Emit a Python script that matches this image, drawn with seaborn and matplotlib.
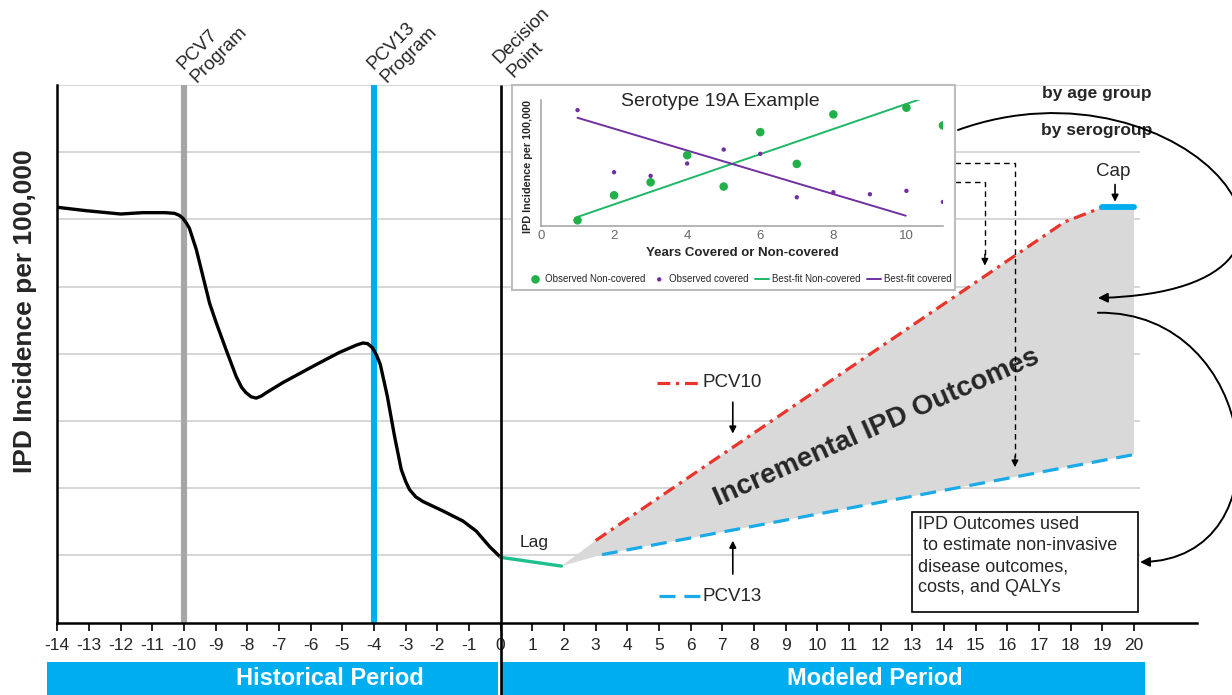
import pandas as pd
import seaborn as sns
import matplotlib.pyplot as plt
from matplotlib import font_manager
from matplotlib.patches import Rectangle, FancyArrowPatch
from matplotlib.path import Path

# historical IPD incidence, years relative to the decision point
hist_years = [-14.0, -13.1, -12.0, -11.3, -10.6, -10.3, -10.15, -10.04, -9.93, -9.83, -9.61,
              -9.41, -9.19, -8.98, -8.67, -8.35, -8.18, -8.04, -7.88, -7.72, -7.56, -7.40,
              -6.88, -5.82, -5.09, -4.55, -4.35, -4.20, -4.05, -3.92, -3.80, -3.58, -3.35,
              -3.14, -3.00, -2.88, -2.68, -2.45, -1.82, -1.19, -0.77, -0.35, 0.0]
hist_incidence = [6.18, 6.13, 6.08, 6.10, 6.10, 6.09, 6.06, 6.02, 5.95, 5.87, 5.55,
                  5.17, 4.75, 4.46, 4.06, 3.66, 3.50, 3.42, 3.36, 3.34, 3.37, 3.42,
                  3.57, 3.84, 4.02, 4.13, 4.16, 4.15, 4.09, 3.98, 3.84, 3.37, 2.77,
                  2.28, 2.10, 1.98, 1.87, 1.80, 1.66, 1.51, 1.36, 1.13, 0.97]

lag_years = [0.0, 1.92]
lag_incidence = [0.97, 0.84]

pcv10_years = [3.0, 17.8, 19.0]
pcv10_incidence = [1.22, 5.96, 6.18]
pcv13_years = [3.2, 20.0]
pcv13_incidence = [1.01, 2.50]
cap_years = [19.0, 20.0]
cap_incidence = [6.18, 6.18]

program_years = [-10, -4]
program_colors = ['#A6A6A6', '#00AEEF']
event_labels = ['PCV7\nProgram', 'PCV13\nProgram', 'Decision\nPoint']
event_years = [-10, -4, 0]
year_ticks = list(range(-14, 21))
grid_levels = [1, 2, 3, 4, 5, 6, 7, 8]
period_names = ['Historical Period', 'Modeled Period']
period_starts = [-14.32, 0.04]
period_ends = [-0.08, 20.34]
period_label_x = [-5.4, 11.82]

# inset: serotype 19A example
nc_years = [1, 2, 3, 4, 5, 6, 7, 8, 10, 11]
nc_incidence = [0.45, 2.44, 3.47, 5.62, 3.13, 7.45, 4.93, 8.86, 9.39, 7.98]
cov_years = [1, 2, 3, 4, 5, 6, 7, 8, 9, 10, 11]
cov_incidence = [9.20, 4.27, 3.98, 4.96, 6.07, 5.73, 2.28, 2.68, 2.52, 2.79, 1.91]
fit_nc_years = [1, 10.36]
fit_nc = [0.72, 10.05]
fit_cov_years = [1, 9.98]
fit_cov = [8.59, 0.82]

GREEN = '#22B04B'
PURPLE = '#7030A0'
RED = '#E8342A'
BLUE = '#1AAAE8'
CYAN = '#00AEEF'

sns.set_theme(style='white')
plt.rcParams['font.family'] = ['Liberation Sans', 'DejaVu Sans']

fig = plt.figure(figsize=(12.32, 6.95), dpi=100)
ax = fig.add_axes([0.0465, 0.1043, 0.9254, 0.7734])
ax.set_xlim(-14, 22)
ax.set_ylim(0, 8)

# gridlines
ax.hlines(grid_levels, -14, 20.19, color='#D6D6D6', lw=1.4, zorder=0)

# program lines
ax.vlines(program_years, 0, 8.03, colors=program_colors, lw=4.4, zorder=1)
ax.vlines([0], -1.08, 8.0, colors='black', lw=1.9, zorder=6, clip_on=False)

# incremental area
fill_x = [lag_years[-1]] + pcv10_years + [cap_years[-1]] + pcv13_years[::-1]
fill_y = [lag_incidence[-1]] + pcv10_incidence + [cap_incidence[-1]] + pcv13_incidence[::-1]
ax.fill(fill_x, fill_y, color='#D9D9D9', lw=0, zorder=1)

hist = pd.DataFrame({'year': hist_years, 'incidence': hist_incidence})
sns.lineplot(data=hist, x='year', y='incidence', sort=False, estimator=None,
             color='black', lw=2.4, ax=ax, zorder=3)
sns.lineplot(x=lag_years, y=lag_incidence, color='#1DBF8E', lw=2.4, ax=ax, zorder=3)
sns.lineplot(x=pcv10_years, y=pcv10_incidence, color=RED, lw=2.3, ax=ax, zorder=3,
             linestyle=(0, (4, 1.8, 1, 1.8)))
sns.lineplot(x=pcv13_years, y=pcv13_incidence, color=BLUE, lw=2.3, ax=ax, zorder=3,
             linestyle=(0, (5, 2.8)))
sns.lineplot(x=cap_years, y=cap_incidence, color=CYAN, lw=4.2, ax=ax, zorder=3)

# axes styling
for side in ['top', 'right']:
    ax.spines[side].set_visible(False)
for side in ['left', 'bottom']:
    ax.spines[side].set_color('black')
    ax.spines[side].set_linewidth(1.8)
ax.set_xticks(year_ticks)
ax.set_xticklabels([str(t) for t in year_ticks])
ax.set_yticks([])
ax.tick_params(axis='x', direction='out', length=6, width=1.2, color='black',
               labelsize=12.5, pad=5, bottom=True)
ax.set_xlabel('')
ax.set_ylabel('')
fig.text(0.02, 0.552, 'IPD Incidence per 100,000', rotation=90, ha='center', va='center',
         fontsize=19, fontweight='bold')

# period bands
for name, x0, x1, lx in zip(period_names, period_starts, period_ends, period_label_x):
    ax.add_patch(Rectangle((x0, -1.08), x1 - x0, 0.49, facecolor=CYAN, edgecolor='none',
                           clip_on=False, zorder=4))
    ax.text(lx, -0.835, name, ha='center', va='center', color='white', fontsize=17,
            fontweight='bold', zorder=5)

# event labels
for lab, yr in zip(event_labels, event_years):
    ax.text(yr + 0.5, 7.98 if yr else 8.06, lab, rotation=45, rotation_mode='anchor',
            ha='left', va='bottom', fontsize=13.5)

ax.text(11.88, 2.90, 'Incremental IPD Outcomes', rotation=24, ha='center', va='center',
        fontsize=20, fontweight='bold', zorder=5)
ax.text(1.07, 1.19, 'Lag', ha='center', va='center', fontsize=12.5)
ax.text(19.34, 6.71, 'Cap', ha='center', va='center', fontsize=13.5)
ax.annotate('', xy=(19.4, 6.22), xytext=(19.4, 6.56),
            arrowprops=dict(arrowstyle='-|>', color='black', lw=1.2, mutation_scale=10))

# vaccine labels
ax.plot([4.93, 6.29], [3.57, 3.57], color=RED, lw=2.3, linestyle=(0, (4, 1.8, 1, 1.8)))
ax.text(6.38, 3.57, 'PCV10', ha='left', va='center', fontsize=13.5)
ax.annotate('', xy=(7.33, 2.77), xytext=(7.33, 3.32),
            arrowprops=dict(arrowstyle='-|>', color='black', lw=1.2, mutation_scale=10))
ax.plot([4.99, 6.29], [0.39, 0.39], color=BLUE, lw=2.3, linestyle=(0, (5, 2.8)))
ax.text(6.38, 0.39, 'PCV13', ha='left', va='center', fontsize=13.5)
ax.annotate('', xy=(7.33, 1.26), xytext=(7.33, 0.68),
            arrowprops=dict(arrowstyle='-|>', color='black', lw=1.2, mutation_scale=10))

# outcomes box
ax.add_patch(Rectangle((12.99, 0.16), 7.13, 1.48, facecolor='white', edgecolor='black',
                       lw=1.2, zorder=5))
ax.text(13.17, 1.58, 'IPD Outcomes used\n to estimate non-invasive\ndisease outcomes,\ncosts, and QALYs',
        ha='left', va='top', fontsize=13, linespacing=1.3, zorder=6)

# stratification labels
ax.text(20.57, 7.88, 'by age group', ha='right', va='center', fontsize=12.5, fontweight='bold')
ax.text(20.57, 7.33, 'by serogroup', ha='right', va='center', fontsize=12.5, fontweight='bold')

# dashed guides from the inset
for y0, x1, y1 in [(6.84, 16.24, 2.27), (6.56, 15.29, 5.27)]:
    ax.plot([14.34, x1, x1], [y0, y0, y1 + 0.2], color='black', lw=1.0, linestyle=(0, (4, 3)),
            zorder=5)
    ax.annotate('', xy=(x1, y1), xytext=(x1, y1 + 0.25),
                arrowprops=dict(arrowstyle='-|>', color='black', lw=1.0, mutation_scale=10),
                zorder=5)

# curved arrows
curves = [[(14.44, 7.33), (21.6, 8.55), (28.0, 4.95), (18.86, 4.83)],
          [(18.86, 4.61), (23.98, 4.65), (24.93, 0.93), (20.19, 0.90)]]
for verts in curves:
    path = Path(verts, [Path.MOVETO, Path.CURVE4, Path.CURVE4, Path.CURVE4])
    ax.add_patch(FancyArrowPatch(path=path, arrowstyle='-|>', mutation_scale=14, lw=1.4,
                                 color='black', transform=ax.transData, clip_on=False,
                                 zorder=6))

# inset frame
frame = fig.add_axes([0.4156, 0.5827, 0.3596, 0.295])
frame.set_xticks([])
frame.set_yticks([])
frame.set_facecolor('white')
for sp in frame.spines.values():
    sp.set_color('#BDBDBD')
    sp.set_linewidth(1.5)

ax_in = fig.add_axes([0.4391, 0.6748, 0.3263, 0.1813])
ax_in.patch.set_alpha(0)
sns.scatterplot(x=nc_years, y=nc_incidence, color=GREEN, s=38, edgecolor='none',
                label='Observed Non-covered', ax=ax_in, zorder=3)
sns.scatterplot(x=cov_years, y=cov_incidence, color=PURPLE, s=10, edgecolor='none',
                label='Observed covered', ax=ax_in, zorder=3)
sns.lineplot(x=fit_nc_years, y=fit_nc, color='#1DB866', lw=1.4, label='Best-fit Non-covered',
             ax=ax_in, zorder=2)
sns.lineplot(x=fit_cov_years, y=fit_cov, color=PURPLE, lw=1.4, label='Best-fit covered',
             ax=ax_in, zorder=2)
ax_in.set_xlim(0, 11.0)
ax_in.set_ylim(0, 10)
for side in ['top', 'right']:
    ax_in.spines[side].set_visible(False)
for side in ['left', 'bottom']:
    ax_in.spines[side].set_color('#A0A0A0')
    ax_in.spines[side].set_linewidth(1.1)
ax_in.set_xticks([0, 2, 4, 6, 8, 10])
ax_in.set_yticks([])
ax_in.tick_params(axis='x', length=0, labelsize=9.5, labelcolor='#666666', pad=3)
ax_in.set_xlabel('')
ax_in.set_ylabel('')
ax_in.text(4.9, 9.87, 'Serotype 19A Example', ha='center', va='center', fontsize=14)
ax_in.text(0.5, -0.215, 'Years Covered or Non-covered', transform=ax_in.transAxes,
           ha='center', va='center', fontsize=9.5, fontweight='bold')
ax_in.text(-0.032, 0.47, 'IPD Incidence per 100,000', transform=ax_in.transAxes, rotation=90,
           ha='center', va='center', fontsize=7.8, fontweight='bold')

installed = {f.name for f in font_manager.fontManager.ttflist}
if 'Liberation Sans Narrow' in installed:
    leg_font = font_manager.FontProperties(family='Liberation Sans Narrow', size=8.3)
else:
    leg_font = font_manager.FontProperties(family='Liberation Sans', size=7)
handles, labels = ax_in.get_legend_handles_labels()
ax_in.legend(handles, labels, ncol=4, loc='center', bbox_to_anchor=(0.495, -0.42),
             frameon=False, prop=leg_font, handlelength=1.4, handletextpad=0.3,
             columnspacing=0.7, borderaxespad=0)

fig.savefig('out.png', dpi=100)
